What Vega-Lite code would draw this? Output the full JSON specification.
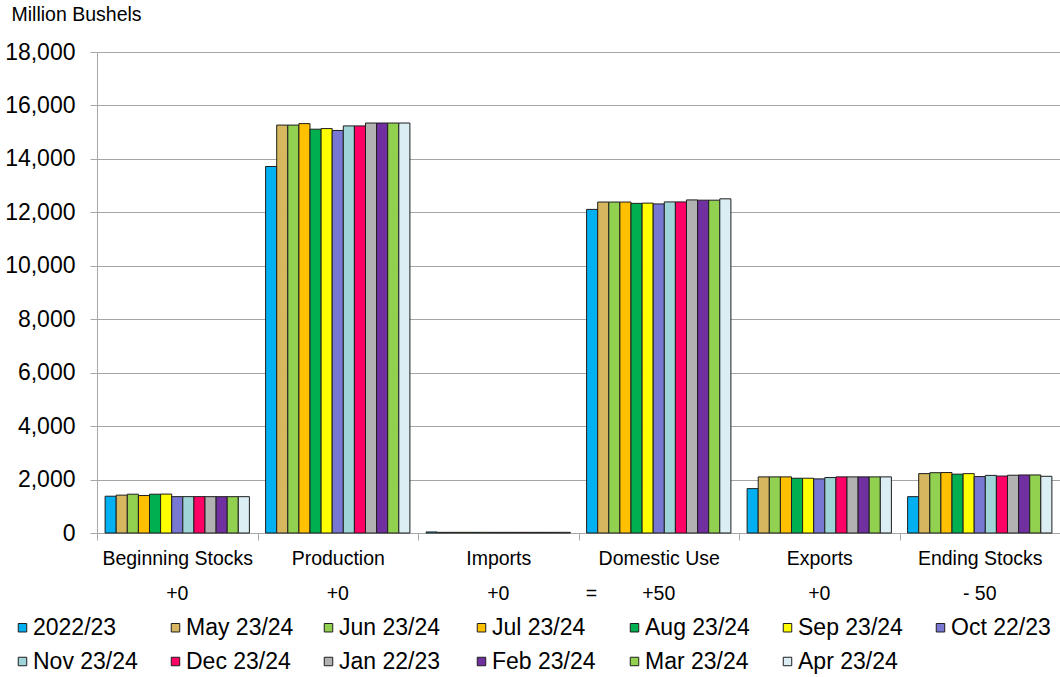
{
  "$schema": "https://vega.github.io/schema/vega-lite/v6.json",
  "width": 963,
  "height": 481,
  "autosize": {"type": "none"},
  "padding": {"left": 97, "top": 52, "right": 0, "bottom": 144},
  "background": "white",
  "config": {
    "font": "Liberation Sans",
    "view": {"stroke": null},
    "axis": {"labelColor": "#000000", "titleColor": "#000000", "domainColor": "#A6A6A6", "tickColor": "#A6A6A6", "gridColor": "#A6A6A6", "gridWidth": 1, "domainWidth": 1, "tickWidth": 1}
  },
  "datasets": {
    "balance": [
      {"category": "Beginning Stocks", "series": "2022/23", "value": 1377},
      {"category": "Beginning Stocks", "series": "May 23/24", "value": 1417},
      {"category": "Beginning Stocks", "series": "Jun 23/24", "value": 1452},
      {"category": "Beginning Stocks", "series": "Jul 23/24", "value": 1402},
      {"category": "Beginning Stocks", "series": "Aug 23/24", "value": 1452},
      {"category": "Beginning Stocks", "series": "Sep 23/24", "value": 1457},
      {"category": "Beginning Stocks", "series": "Oct 22/23", "value": 1361},
      {"category": "Beginning Stocks", "series": "Nov 23/24", "value": 1361},
      {"category": "Beginning Stocks", "series": "Dec 23/24", "value": 1361},
      {"category": "Beginning Stocks", "series": "Jan 22/23", "value": 1360},
      {"category": "Beginning Stocks", "series": "Feb 23/24", "value": 1360},
      {"category": "Beginning Stocks", "series": "Mar 23/24", "value": 1360},
      {"category": "Beginning Stocks", "series": "Apr 23/24", "value": 1360},
      {"category": "Production", "series": "2022/23", "value": 13715},
      {"category": "Production", "series": "May 23/24", "value": 15265},
      {"category": "Production", "series": "Jun 23/24", "value": 15265},
      {"category": "Production", "series": "Jul 23/24", "value": 15320},
      {"category": "Production", "series": "Aug 23/24", "value": 15111},
      {"category": "Production", "series": "Sep 23/24", "value": 15134},
      {"category": "Production", "series": "Oct 22/23", "value": 15064},
      {"category": "Production", "series": "Nov 23/24", "value": 15234},
      {"category": "Production", "series": "Dec 23/24", "value": 15234},
      {"category": "Production", "series": "Jan 22/23", "value": 15342},
      {"category": "Production", "series": "Feb 23/24", "value": 15342},
      {"category": "Production", "series": "Mar 23/24", "value": 15342},
      {"category": "Production", "series": "Apr 23/24", "value": 15342},
      {"category": "Imports", "series": "2022/23", "value": 39},
      {"category": "Imports", "series": "May 23/24", "value": 25},
      {"category": "Imports", "series": "Jun 23/24", "value": 25},
      {"category": "Imports", "series": "Jul 23/24", "value": 25},
      {"category": "Imports", "series": "Aug 23/24", "value": 25},
      {"category": "Imports", "series": "Sep 23/24", "value": 25},
      {"category": "Imports", "series": "Oct 22/23", "value": 25},
      {"category": "Imports", "series": "Nov 23/24", "value": 25},
      {"category": "Imports", "series": "Dec 23/24", "value": 25},
      {"category": "Imports", "series": "Jan 22/23", "value": 25},
      {"category": "Imports", "series": "Feb 23/24", "value": 25},
      {"category": "Imports", "series": "Mar 23/24", "value": 25},
      {"category": "Imports", "series": "Apr 23/24", "value": 25},
      {"category": "Domestic Use", "series": "2022/23", "value": 12110},
      {"category": "Domestic Use", "series": "May 23/24", "value": 12385},
      {"category": "Domestic Use", "series": "Jun 23/24", "value": 12385},
      {"category": "Domestic Use", "series": "Jul 23/24", "value": 12385},
      {"category": "Domestic Use", "series": "Aug 23/24", "value": 12335},
      {"category": "Domestic Use", "series": "Sep 23/24", "value": 12345},
      {"category": "Domestic Use", "series": "Oct 22/23", "value": 12315},
      {"category": "Domestic Use", "series": "Nov 23/24", "value": 12390},
      {"category": "Domestic Use", "series": "Dec 23/24", "value": 12390},
      {"category": "Domestic Use", "series": "Jan 22/23", "value": 12465},
      {"category": "Domestic Use", "series": "Feb 23/24", "value": 12455},
      {"category": "Domestic Use", "series": "Mar 23/24", "value": 12455},
      {"category": "Domestic Use", "series": "Apr 23/24", "value": 12505},
      {"category": "Exports", "series": "2022/23", "value": 1661},
      {"category": "Exports", "series": "May 23/24", "value": 2100},
      {"category": "Exports", "series": "Jun 23/24", "value": 2100},
      {"category": "Exports", "series": "Jul 23/24", "value": 2100},
      {"category": "Exports", "series": "Aug 23/24", "value": 2050},
      {"category": "Exports", "series": "Sep 23/24", "value": 2050},
      {"category": "Exports", "series": "Oct 22/23", "value": 2025},
      {"category": "Exports", "series": "Nov 23/24", "value": 2075},
      {"category": "Exports", "series": "Dec 23/24", "value": 2100},
      {"category": "Exports", "series": "Jan 22/23", "value": 2100},
      {"category": "Exports", "series": "Feb 23/24", "value": 2100},
      {"category": "Exports", "series": "Mar 23/24", "value": 2100},
      {"category": "Exports", "series": "Apr 23/24", "value": 2100},
      {"category": "Ending Stocks", "series": "2022/23", "value": 1360},
      {"category": "Ending Stocks", "series": "May 23/24", "value": 2222},
      {"category": "Ending Stocks", "series": "Jun 23/24", "value": 2257},
      {"category": "Ending Stocks", "series": "Jul 23/24", "value": 2262},
      {"category": "Ending Stocks", "series": "Aug 23/24", "value": 2202},
      {"category": "Ending Stocks", "series": "Sep 23/24", "value": 2221},
      {"category": "Ending Stocks", "series": "Oct 22/23", "value": 2111},
      {"category": "Ending Stocks", "series": "Nov 23/24", "value": 2156},
      {"category": "Ending Stocks", "series": "Dec 23/24", "value": 2131},
      {"category": "Ending Stocks", "series": "Jan 22/23", "value": 2162},
      {"category": "Ending Stocks", "series": "Feb 23/24", "value": 2172},
      {"category": "Ending Stocks", "series": "Mar 23/24", "value": 2172},
      {"category": "Ending Stocks", "series": "Apr 23/24", "value": 2122}
    ],
    "changes": [
      {"category": "Beginning Stocks", "change": "+0"},
      {"category": "Production", "change": "+0"},
      {"category": "Imports", "change": "+0"},
      {"category": "Domestic Use", "change": "+50"},
      {"category": "Exports", "change": "+0"},
      {"category": "Ending Stocks", "change": "- 50"}
    ],
    "operators": [
      {"category": "Domestic Use", "symbol": "="}
    ]
  },
  "layer": [
    {
      "data": {"name": "balance"},
      "mark": {"type": "bar", "stroke": "#1e1e1e", "strokeWidth": 1},
      "encoding": {
        "x": {
          "field": "category",
          "type": "nominal",
          "sort": ["Beginning Stocks", "Production", "Imports", "Domestic Use", "Exports", "Ending Stocks"],
          "scale": {"paddingInner": 0, "paddingOuter": 0},
          "axis": {"title": null, "labelAngle": 0, "tickBand": "extent", "tickSize": 7, "labelPadding": 24, "labelBaseline": "alphabetic", "labelFontSize": 19.5, "labelLimit": 200, "grid": false}
        },
        "xOffset": {
          "field": "series",
          "type": "nominal",
          "sort": ["2022/23", "May 23/24", "Jun 23/24", "Jul 23/24", "Aug 23/24", "Sep 23/24", "Oct 22/23", "Nov 23/24", "Dec 23/24", "Jan 22/23", "Feb 23/24", "Mar 23/24", "Apr 23/24"],
          "scale": {"paddingInner": 0, "paddingOuter": 0.73}
        },
        "y": {
          "field": "value",
          "type": "quantitative",
          "scale": {"domain": [0, 18000], "nice": false},
          "axis": {
            "title": "Million Bushels",
            "titleAngle": 0,
            "titleAlign": "left",
            "titleBaseline": "alphabetic",
            "titleX": -86,
            "titleY": -32,
            "titleFontSize": 19.5,
            "titleFontWeight": "normal",
            "values": [0, 2000, 4000, 6000, 8000, 10000, 12000, 14000, 16000, 18000],
            "format": ",d",
            "labelFontSize": 23,
            "tickSize": 7,
            "labelPadding": 15,
            "grid": true
          }
        },
        "color": {
          "field": "series",
          "type": "nominal",
          "scale": {
            "domain": ["2022/23", "May 23/24", "Jun 23/24", "Jul 23/24", "Aug 23/24", "Sep 23/24", "Oct 22/23", "Nov 23/24", "Dec 23/24", "Jan 22/23", "Feb 23/24", "Mar 23/24", "Apr 23/24"],
            "range": ["#00B0F0", "#D6B65E", "#92D050", "#FFC000", "#00B050", "#FFFF00", "#7878D2", "#9FD5D8", "#FF0066", "#B2B2B2", "#7030A0", "#92D050", "#DAEEF3"]
          },
          "legend": {
            "title": null,
            "orient": "none",
            "legendX": -86,
            "legendY": 564,
            "direction": "horizontal",
            "columns": 7,
            "gridAlign": "all",
            "columnPadding": 23,
            "rowPadding": 10,
            "padding": 0,
            "symbolType": "square",
            "symbolSize": 72,
            "symbolStrokeColor": "#1e1e1e",
            "symbolStrokeWidth": 1,
            "symbolOpacity": 1,
            "labelFontSize": 23,
            "labelColor": "#000000",
            "labelOffset": -1,
            "labelLimit": 200
          }
        }
      }
    },
    {
      "data": {"name": "changes"},
      "mark": {"type": "text", "fontSize": 19.5, "color": "#000000", "baseline": "alphabetic", "align": "center", "dy": 67},
      "encoding": {
        "x": {"field": "category", "type": "nominal", "sort": ["Beginning Stocks", "Production", "Imports", "Domestic Use", "Exports", "Ending Stocks"], "title": null},
        "y": {"datum": 0, "type": "quantitative"},
        "text": {"field": "change"}
      }
    },
    {
      "data": {"name": "operators"},
      "mark": {"type": "text", "fontSize": 19.5, "color": "#000000", "baseline": "alphabetic", "align": "center", "dy": 67},
      "encoding": {
        "x": {"field": "category", "type": "nominal", "sort": ["Beginning Stocks", "Production", "Imports", "Domestic Use", "Exports", "Ending Stocks"], "title": null, "bandPosition": 0.08},
        "y": {"datum": 0, "type": "quantitative"},
        "text": {"field": "symbol"}
      }
    }
  ]
}
